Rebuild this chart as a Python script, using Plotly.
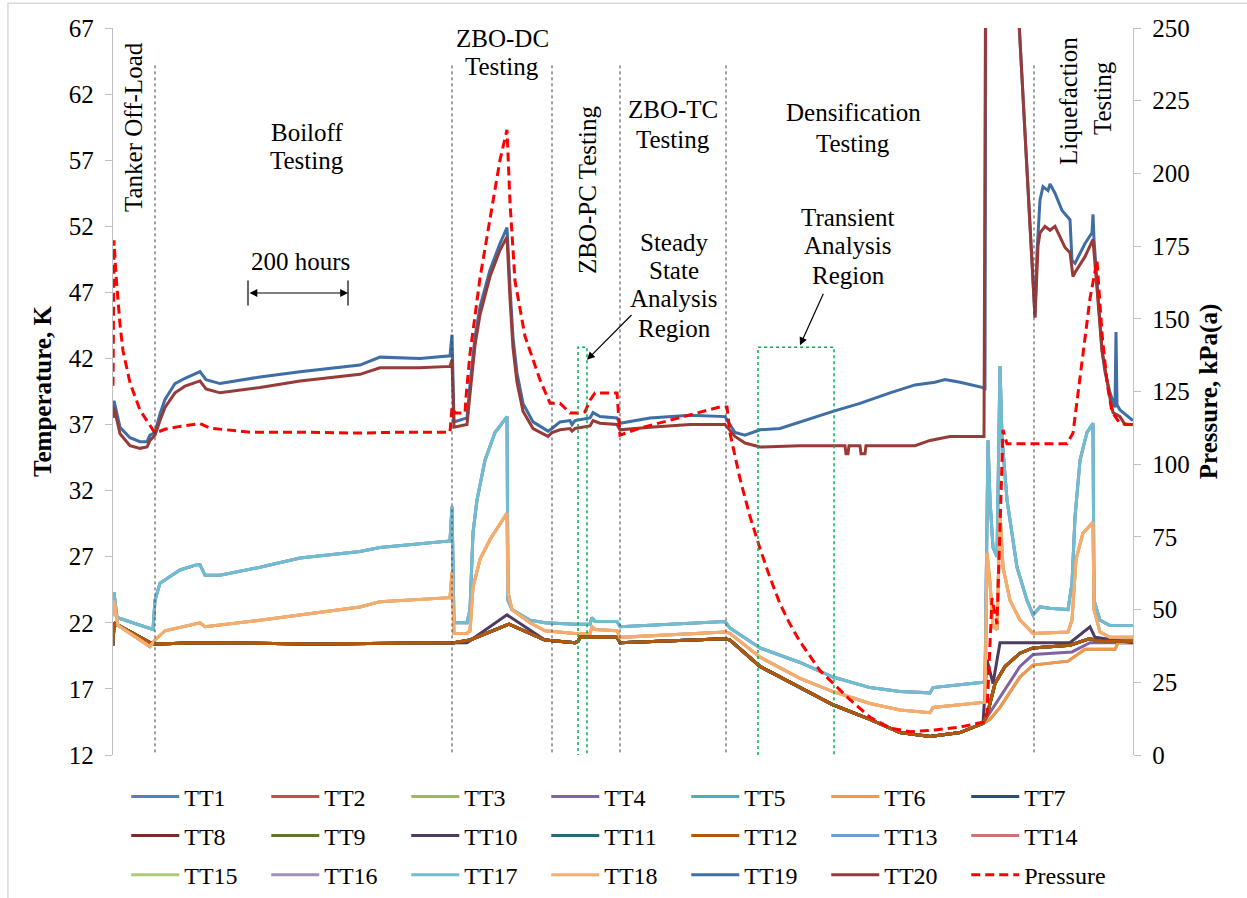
import plotly.graph_objects as go

# ---------------- data (x = elapsed test time, hours) ----------------
# Lower liquid sensors (TT1-TT12) - shared history up to end of densification
d_early_t = [0, 2, 6, 74, 84, 174, 400, 674, 682, 714, 792, 864, 924, 930, 934, 1008, 1014,
             1224, 1234, 1294, 1374, 1440, 1514, 1574, 1634, 1694, 1740]
d_early_v = [20.3, 22.0, 21.9, 20.5, 20.4, 20.5, 20.4, 20.5, 20.5, 20.7, 21.9, 20.7, 20.5, 20.6, 20.9, 20.9, 20.5,
             20.8, 20.7, 18.7, 17.1, 15.8, 14.7, 13.7, 13.4, 13.7, 14.4]
d_late_t = [1748, 1764, 1784, 1814, 1840, 1914, 1954, 1970, 2040]
d_late_v = [15.0, 17.4, 18.7, 19.7, 20.1, 20.3, 20.8, 20.6, 20.6]

tt4_late_t = [1774, 1814, 1840, 1918, 1954, 2040]
tt4_late_v = [16.4, 18.7, 19.6, 19.8, 20.5, 20.5]

tt56_late_t = [1754, 1774, 1814, 1840, 1910, 1944, 2004, 2010, 2040]
tt56_late_v = [14.7, 15.6, 17.9, 18.8, 19.1, 20.0, 20.0, 20.5, 20.5]

tt10_t = [0, 2, 6, 74, 84, 174, 400, 674, 682, 708, 788, 864, 924, 930, 934, 1008, 1014,
          1224, 1234, 1294, 1374, 1440, 1514, 1574, 1634, 1694, 1740,
          1748, 1760, 1774, 1914, 1954, 1964, 2040]
tt10_v = [20.3, 22.0, 21.9, 20.5, 20.4, 20.5, 20.4, 20.5, 20.5, 20.5, 22.6, 20.7, 20.5, 20.6, 20.9, 20.9, 20.5,
          20.8, 20.7, 18.7, 17.1, 15.8, 14.7, 13.7, 13.4, 13.7, 14.4,
          19.2, 17.4, 20.5, 20.5, 21.7, 20.9, 20.5]

# Mid sensors (TT13, TT16, TT17)
b_t = [0, 2, 8, 74, 80, 84, 94, 114, 134, 168, 174, 184, 214, 294, 374, 494, 534, 674, 678,
       682, 708, 714, 720, 728, 744, 764, 788, 790, 798, 834, 864, 924, 954, 958, 964, 1008,
       1014, 1224, 1234, 1294, 1374, 1440, 1514, 1574, 1634, 1640, 1740, 1744,
       1750, 1754, 1760, 1768, 1774, 1778, 1788, 1808, 1828, 1840, 1854, 1874, 1910,
       1918, 1924, 1934, 1948, 1960, 1962, 1974, 1994, 2040]
b_v = [23.5, 24.3, 22.4, 21.6, 21.5, 23.7, 25.0, 25.5, 26.0, 26.4, 26.4, 25.6, 25.6, 26.2, 26.9, 27.4, 27.7, 28.2, 30.8,
       22.0, 22.0, 23.0, 28.8, 31.3, 34.3, 36.4, 37.6, 23.7, 23.0, 22.2, 22.0, 21.9, 21.9, 22.4, 22.1, 22.1,
       21.7, 22.1, 21.6, 20.1, 19.0, 17.9, 17.1, 16.8, 16.7, 17.1, 17.5, 17.6,
       35.8, 31.3, 27.7, 27.0, 41.4, 36.0, 31.3, 26.2, 23.7, 22.6, 23.2, 23.1, 23.0,
       25.0, 30.0, 34.3, 36.4, 37.1, 23.7, 22.2, 21.8, 21.8]

# Mid sensors (TT14, TT15, TT18)
c_t = [0, 2, 10, 74, 84, 104, 174, 184, 294, 374, 494, 534, 674, 678,
       682, 708, 714, 720, 734, 754, 774, 788, 790, 798, 834, 864, 924, 954, 958, 964, 1008,
       1014, 1224, 1234, 1294, 1374, 1440, 1514, 1574, 1634, 1640, 1740, 1744,
       1748, 1754, 1760, 1768, 1774, 1780, 1794, 1814, 1840, 1910,
       1918, 1926, 1940, 1960, 1962, 1974, 1994, 2040]
c_v = [22.5, 23.7, 21.8, 20.2, 20.7, 21.4, 22.0, 21.7, 22.2, 22.6, 23.2, 23.6, 23.9, 25.8,
       21.2, 21.2, 21.4, 24.7, 26.8, 28.3, 29.5, 30.3, 24.3, 23.0, 22.0, 21.4, 21.2, 21.2, 21.7, 21.5, 21.4,
       20.9, 21.3, 21.2, 19.4, 17.8, 16.8, 15.9, 15.4, 15.2, 15.6, 16.0, 16.0,
       27.3, 25.0, 21.7, 21.5, 30.3, 26.2, 23.7, 22.2, 21.2, 21.3,
       22.2, 26.8, 28.8, 29.6, 23.0, 21.3, 20.9, 20.9]

# Ullage sensor TT19
tt19_t = [0, 2, 14, 34, 54, 68, 74, 84, 94, 104, 124, 144, 174, 186, 214, 294, 374, 454, 494, 534, 614, 674, 678,
          682, 708, 714, 724, 734, 754, 774, 788, 794, 800, 808, 820, 840, 864, 870,
          878, 894, 914, 918, 924, 954, 960, 974, 1008, 1014, 1074, 1154, 1224,
          1244, 1264, 1294, 1334, 1374, 1440, 1494, 1554, 1604, 1644, 1664, 1694, 1740, 1744,
          1746, 1794, 1844, 1848, 1854, 1860, 1870, 1874, 1884, 1898, 1914, 1918, 1924, 1944, 1958, 1960, 1962,
          1978, 1984, 1994, 2004, 2006, 2008, 2014, 2040]
tt19_v = [38.0, 38.8, 36.8, 36.0, 35.7, 35.7, 36.2, 36.4, 37.8, 38.9, 40.1, 40.5, 41.0, 40.4, 40.1, 40.6, 41.0, 41.3, 41.5, 42.1, 42.0, 42.2, 43.8,
          37.2, 37.5, 40.0, 43.6, 45.9, 48.7, 50.7, 51.9, 47.4, 43.6, 40.9, 38.6, 37.2, 36.6, 36.5,
          36.7, 37.2, 37.3, 37.0, 37.3, 37.5, 37.9, 37.6, 37.5, 37.1, 37.5, 37.7, 37.6,
          36.4, 36.2, 36.6, 36.7, 37.2, 38.0, 38.6, 39.4, 40.0, 40.2, 40.4, 40.2, 39.8, 39.6,
          80.0, 80.0, 45.1, 50.0, 54.0, 55.0, 54.7, 55.2, 54.5, 53.2, 52.5, 49.4, 49.2, 50.7, 51.5, 52.9, 51.0,
          42.6, 41.0, 39.4, 38.3, 44.0, 38.5, 38.1, 37.3]

# Ullage sensor TT20
tt20_t = [0, 2, 14, 34, 54, 68, 74, 84, 94, 104, 124, 144, 174, 186, 214, 294, 374, 454, 494, 534, 614, 674, 678,
          682, 708, 714, 724, 734, 754, 774, 788, 794, 800, 808, 820, 840, 864, 870,
          878, 894, 914, 918, 924, 954, 960, 974, 1008, 1014, 1074, 1154, 1224,
          1244, 1264, 1294, 1374, 1464, 1466, 1470, 1472, 1494, 1496, 1504, 1506, 1604, 1634, 1674, 1742,
          1746, 1794, 1844, 1850, 1854, 1864, 1874, 1884, 1904, 1914, 1920, 1924, 1944, 1960,
          1978, 1994, 2000, 2014, 2024, 2040]
tt20_v = [37.5, 38.3, 36.3, 35.4, 35.2, 35.3, 35.8, 36.2, 37.3, 38.3, 39.4, 39.9, 40.3, 39.7, 39.4, 39.8, 40.3, 40.6, 40.8, 41.3, 41.3, 41.4, 41.9,
          36.8, 37.0, 39.3, 43.0, 45.3, 48.2, 50.2, 51.2, 46.5, 42.8, 40.2, 38.0, 36.7, 36.2, 36.1,
          36.4, 36.6, 36.7, 36.5, 36.7, 36.9, 37.3, 37.1, 37.0, 36.6, 36.8, 37.0, 37.0,
          36.1, 35.6, 35.3, 35.4, 35.4, 34.8, 34.8, 35.4, 35.4, 34.8, 34.8, 35.4, 35.4, 35.8, 36.1, 36.1,
          80.0, 80.0, 45.1, 50.5, 51.5, 52.0, 51.7, 52.0, 50.4, 50.0, 48.2, 48.5, 49.7, 51.0,
          42.6, 39.0, 37.9, 37.6, 37.0, 37.0]

# Tank pressure, kPa(a)
p_t = [0, 2, 6, 10, 14, 20, 34, 54, 74, 84, 104, 134, 174, 194, 274, 374, 494, 574, 674, 678,
       684, 704, 706, 714, 734, 754, 774, 788, 794, 804, 824, 854, 874, 894, 914, 934, 944, 954, 964, 1008,
       1012, 1014, 1054, 1214, 1228, 1234, 1254, 1274, 1294, 1314, 1334, 1354, 1374, 1394, 1414, 1440,
       1474, 1514, 1554, 1594, 1644, 1694, 1740, 1748, 1758, 1768, 1780, 1788, 1908, 1920, 1940,
       1954, 1968, 1978, 1988, 1998, 2014, 2040]
p_v = [127, 177, 165, 156, 148, 139, 128, 118.6, 113.5, 110.7, 112, 113, 114, 112.4, 111, 111, 110.7, 111, 111, 119.6,
       117.6, 117.6, 123, 138, 164, 184, 204.6, 215, 190, 163, 144, 129, 121, 121, 117.6, 117.6, 118, 122, 124.5, 124.5,
       111.8, 110, 112.4, 119.7, 119.7, 110.7, 95, 82, 71, 61, 52, 45, 39, 34, 29, 24.7,
       19, 13, 9.3, 8, 8.6, 9.6, 11.3, 14.4, 54, 45, 111.8, 107, 107, 110.7, 139,
       157, 170, 145, 128, 118, 114, 113.5]

series_names = ["TT%d" % i for i in range(1, 21)]
series_colors = ["#4F81BD", "#C0504D", "#9BBB59", "#8064A2", "#4BACC6", "#F79646", "#2C4D75",
                 "#772C2A", "#5F7530", "#4D3B62", "#276A7C", "#B65708", "#729ACA", "#CD7371",
                 "#AFC97A", "#A18FB9", "#6FBDD1", "#F9AB6B", "#3F6DA6", "#983B38"]

# phase boundaries (hours) and analysis regions (hours)
phase_bounds = [84, 678, 878, 1014, 1226, 1842]
steady_region = (930, 948)
transient_region = (1290, 1442)

# ---------------- build the series ----------------
series_data = {}
for n in ["TT1", "TT2", "TT3", "TT7", "TT8", "TT9", "TT11", "TT12"]:
    series_data[n] = (d_early_t + d_late_t, d_early_v + d_late_v)
series_data["TT4"] = (d_early_t + tt4_late_t, d_early_v + tt4_late_v)
series_data["TT5"] = (d_early_t + tt56_late_t, d_early_v + tt56_late_v)
series_data["TT6"] = (d_early_t + tt56_late_t, d_early_v + tt56_late_v)
series_data["TT10"] = (tt10_t, tt10_v)
for n in ["TT13", "TT16", "TT17"]:
    series_data[n] = (b_t, b_v)
for n in ["TT14", "TT15", "TT18"]:
    series_data[n] = (c_t, c_v)
series_data["TT19"] = (tt19_t, tt19_v)
series_data["TT20"] = (tt20_t, tt20_v)

FONT = "Liberation Serif, Times New Roman, serif"
legend_ids = ["legend", "legend2", "legend3"]
fig = go.Figure()
for i, (name, col) in enumerate(zip(series_names, series_colors)):
    xs, ys = series_data[name]
    fig.add_trace(go.Scatter(x=xs, y=ys, mode="lines", name=name,
                             legend=legend_ids[i // 7],
                             line=dict(color=col, width=3)))
fig.add_trace(go.Scatter(x=p_t, y=p_v, mode="lines", name="Pressure", yaxis="y2",
                         legend="legend3",
                         line=dict(color="#FF0000", width=3, dash="9px,5px")))

shapes = []
for b in phase_bounds:
    shapes.append(dict(type="line", xref="x", yref="y", x0=b, x1=b, y0=12.2, y1=64.4,
                       line=dict(color="#404040", width=1, dash="dot")))
for (a, bb) in [steady_region, transient_region]:
    shapes.append(dict(type="rect", xref="x", yref="y", x0=a, x1=bb, y0=11.9, y1=42.85,
                       line=dict(color="#00B050", width=1.5, dash="dot")))
# 200 hour scale bar end ticks
for xv in [270, 470]:
    shapes.append(dict(type="line", xref="x", yref="y", x0=xv, x1=xv, y0=46.0, y1=47.9,
                       line=dict(color="black", width=1.2)))
# chart-area frame
shapes.append(dict(type="rect", xref="paper", yref="paper", x0=-0.103, x1=1.12, y0=-0.2, y1=1.034,
                   line=dict(color="#D9D9D9", width=1.5)))

ann_font = dict(family=FONT, size=25, color="black")
texts = [
    ("Boiloff", 388, 59.13, 0), ("Testing", 388, 57.01, 0),
    ("ZBO-DC", 778, 66.24, 0), ("Testing", 778, 64.05, 0),
    ("ZBO-TC", 1120, 60.80, 0), ("Testing", 1120, 58.60, 0),
    ("Densification", 1480, 60.57, 0), ("Testing", 1480, 58.30, 0),
    ("Steady", 1122, 50.81, 0), ("State", 1122, 48.69, 0),
    ("Analysis", 1122, 46.50, 0), ("Region", 1122, 44.30, 0),
    ("Transient", 1470, 52.70, 0), ("Analysis", 1470, 50.51, 0), ("Region", 1470, 48.24, 0),
    ("200 hours", 374, 49.30, 0),
    ("Tanker Off-Load", 40, 59.51, -90),
    ("ZBO-PC Testing", 948, 54.74, -90),
    ("Liquefaction", 1912, 61.48, -90),
    ("Testing", 1978, 61.70, -90),
]
annotations = []
for t, xv, yv, ang in texts:
    annotations.append(dict(text=t, x=xv, y=yv, xref="x", yref="y", showarrow=False,
                            font=ann_font, textangle=ang))
# arrows
annotations.append(dict(x=948, y=41.9, ax=1040, ay=45.4, xref="x", yref="y", axref="x", ayref="y",
                        text="", showarrow=True, arrowhead=2, arrowsize=1.3, arrowwidth=1.2,
                        arrowcolor="black"))
annotations.append(dict(x=1374, y=43.0, ax=1422, ay=47.0, xref="x", yref="y", axref="x", ayref="y",
                        text="", showarrow=True, arrowhead=2, arrowsize=1.3, arrowwidth=1.2,
                        arrowcolor="black"))
annotations.append(dict(x=470, y=46.95, ax=270, ay=46.95, xref="x", yref="y", axref="x", ayref="y",
                        text="", showarrow=True, arrowhead=2, arrowside="end+start", arrowsize=1.3,
                        arrowwidth=1.2, arrowcolor="black"))

leg_common = dict(orientation="h", x=0.013, xanchor="left", yanchor="middle",
                  font=dict(family=FONT, size=24, color="black"),
                  itemwidth=48, entrywidth=77, entrywidthmode="pixels",
                  traceorder="normal", bgcolor="rgba(0,0,0,0)")

fig.update_layout(
    width=1247, height=898,
    margin=dict(l=113, r=114, t=28, b=143, autoexpand=False),
    paper_bgcolor="white", plot_bgcolor="white",
    font=dict(family=FONT, size=25, color="black"),
    showlegend=True,
    legend=dict(leg_common, y=-0.0578),
    legend2=dict(leg_common, y=-0.1114),
    legend3=dict(leg_common, y=-0.1651),
    xaxis=dict(range=[0, 2040], showticklabels=False, showline=False, showgrid=False,
               zeroline=False, ticks=""),
    yaxis=dict(range=[12, 67], tick0=12, dtick=5, showgrid=False, zeroline=False,
               showline=True, linecolor="#BFBFBF", linewidth=1.3, ticks="outside",
               ticklen=7, tickcolor="#BFBFBF", tickfont=dict(family=FONT, size=25),
               ticklabelstandoff=6,
               title=dict(text="<b>Temperature, K</b>", font=dict(family=FONT, size=25),
                          standoff=10)),
    yaxis2=dict(range=[0, 250], tick0=0, dtick=25, overlaying="y", side="right",
                showgrid=False, zeroline=False, showline=True, linecolor="#BFBFBF",
                linewidth=1.3, ticks="outside", ticklen=7, tickcolor="#BFBFBF",
                tickfont=dict(family=FONT, size=25), ticklabelstandoff=6,
                title=dict(text="<b>Pressure, kPa(a)</b>", font=dict(family=FONT, size=25),
                           standoff=10)),
    shapes=shapes,
    annotations=annotations,
)

fig.write_html("out.html", config={"displayModeBar": False},
               post_script="document.body.style.margin='0';")
